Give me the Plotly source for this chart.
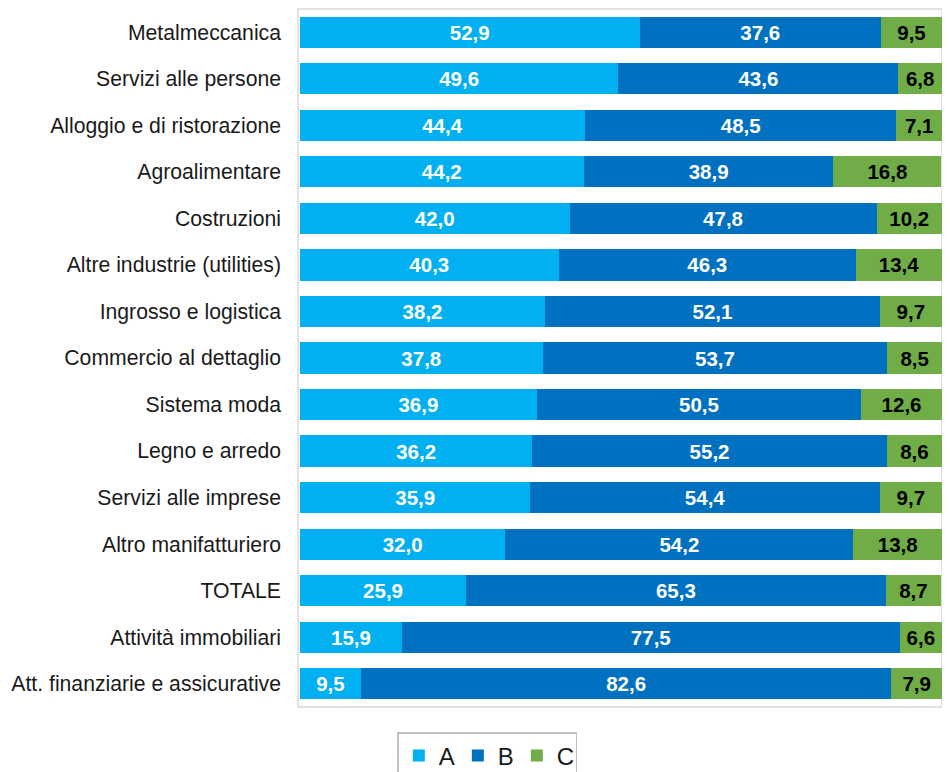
import plotly.graph_objects as go

categories = [
    "Metalmeccanica", "Servizi alle persone", "Alloggio e di ristorazione",
    "Agroalimentare", "Costruzioni", "Altre industrie (utilities)",
    "Ingrosso e logistica", "Commercio al dettaglio", "Sistema moda",
    "Legno e arredo", "Servizi alle imprese", "Altro manifatturiero",
    "TOTALE", "Attività immobiliari", "Att. finanziarie e assicurative",
]
A = [52.9, 49.6, 44.4, 44.2, 42.0, 40.3, 38.2, 37.8, 36.9, 36.2, 35.9, 32.0, 25.9, 15.9, 9.5]
B = [37.6, 43.6, 48.5, 38.9, 47.8, 46.3, 52.1, 53.7, 50.5, 55.2, 54.4, 54.2, 65.3, 77.5, 82.6]
C = [9.5, 6.8, 7.1, 16.8, 10.2, 13.4, 9.7, 8.5, 12.6, 8.6, 9.7, 13.8, 8.7, 6.6, 7.9]

series = [("A", A, "#00B0F0", "white"), ("B", B, "#0070C0", "white"), ("C", C, "#70AD47", "black")]

fig = go.Figure()
for name, vals, col, tcol in series:
    fig.add_trace(go.Bar(
        y=categories, x=vals, name=name, orientation="h",
        marker=dict(color=col, line=dict(width=0)),
        texttemplate="%{x:.1f}", textposition="inside", insidetextanchor="middle",
        constraintext="none",
        textfont=dict(family="Liberation Sans, Arial, sans-serif", size=20.5, color=tcol, weight="bold"),
        hoverinfo="skip",
    ))

fig.update_layout(
    width=934, height=772,
    barmode="stack", bargap=0.33,
    separators=",.",
    margin=dict(l=290, r=0, t=1, b=72),
    paper_bgcolor="white", plot_bgcolor="white",
    font=dict(family="Liberation Sans, Arial, sans-serif", color="#1a1a1a"),
    xaxis=dict(range=[-0.3, 100], showgrid=False, zeroline=False, showticklabels=False, fixedrange=True),
    yaxis=dict(autorange="reversed", showgrid=False, zeroline=False,
               tickfont=dict(size=21.2, color="#1a1a1a"), ticklabelstandoff=16, ticks=""),
    legend=dict(orientation="h", x=0.294, xanchor="center", y=-0.036, yanchor="top",
                bordercolor="#bfbfbf", borderwidth=1.5, font=dict(size=24, color="#1a1a1a"),
                itemwidth=30, entrywidth=14, traceorder="normal"),
    showlegend=True,
    shapes=[dict(type="rect", xref="paper", yref="paper", x0=0, x1=1, y0=0, y1=1,
                 line=dict(color="#d9d9d9", width=1.5), fillcolor="rgba(0,0,0,0)", layer="below")],
)

fig.write_html("out.html")
